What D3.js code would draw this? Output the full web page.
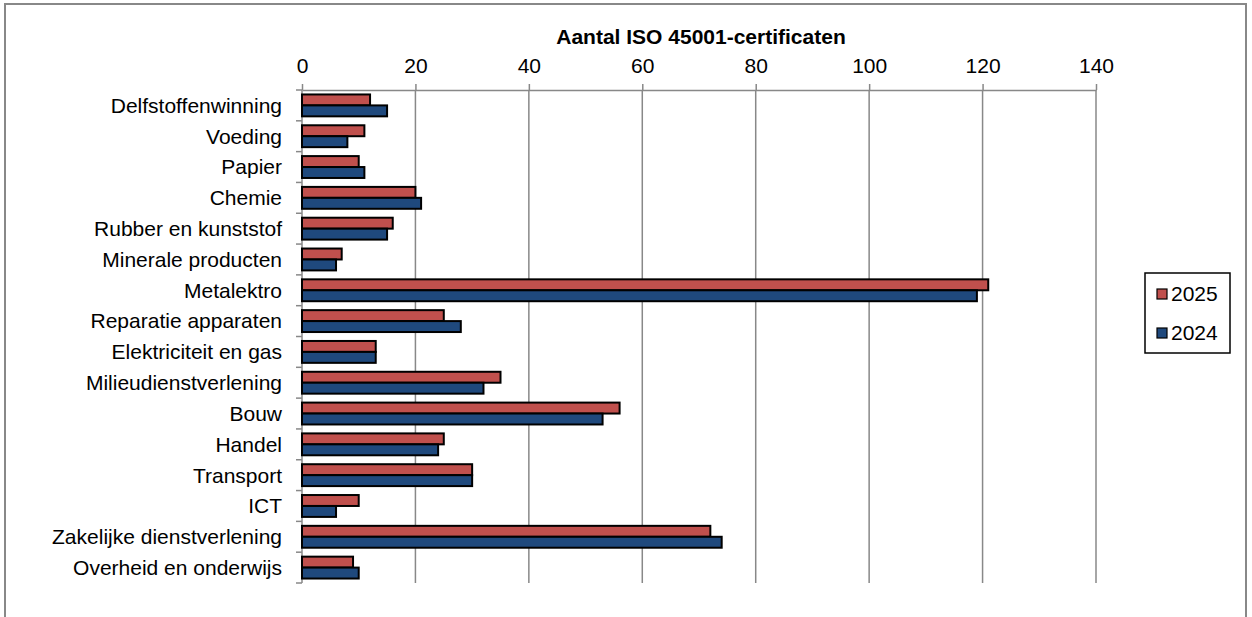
<!DOCTYPE html>
<html><head><meta charset="utf-8">
<script src="https://cdn.jsdelivr.net/npm/d3@7"></script>
<style>body{margin:0;background:#fff}svg{display:block}text{font-family:"Liberation Sans",Arial,sans-serif;fill:#000}</style>
</head><body>
<svg id="c" width="1252" height="617"></svg>
<script>
const categories = ["Delfstoffenwinning","Voeding","Papier","Chemie","Rubber en kunststof","Minerale producten","Metalektro","Reparatie apparaten","Elektriciteit en gas","Milieudienstverlening","Bouw","Handel","Transport","ICT","Zakelijke dienstverlening","Overheid en onderwijs"];
const values2025 = [12,11,10,20,16,7,121,25,13,35,56,25,30,10,72,9];
const values2024 = [15,8,11,21,15,6,119,28,13,32,53,24,30,6,74,10];
const seriesNames = ["2025","2024"];
const seriesColors = ["#C0504D","#1F497D"];
const xTicks = [0,20,40,60,80,100,120,140];
const title = "Aantal ISO 45001-certificaten";

const FS = "21px";
const svg = d3.select("#c");
// outer frame
svg.append("rect").attr("x",5).attr("y",4).attr("width",1241).attr("height",640)
  .attr("fill","none").attr("stroke","#888").attr("stroke-width",2);

const pLeft=302, pRight=1096, pTop=90, pBottom=583;
const x = d3.scaleLinear().domain([0,140]).range([pLeft,pRight]);
const y = d3.scaleBand().domain(categories).range([pTop,pBottom]).paddingInner(0.29).paddingOuter(0.145);
const sub = d3.scaleBand().domain(seriesNames).range([0,y.bandwidth()]);

// gridlines
svg.append("g").selectAll("line").data(xTicks.slice(1)).join("line")
  .attr("x1",d=>x(d)).attr("x2",d=>x(d)).attr("y1",pTop).attr("y2",pBottom)
  .attr("stroke","#888").attr("stroke-width",1.5);

// top axis
const gx = svg.append("g").attr("transform",`translate(0,${pTop})`)
  .call(d3.axisTop(x).tickValues(xTicks).tickSize(6).tickPadding(11).tickSizeOuter(0));
gx.select(".domain").attr("stroke","#888").attr("stroke-width",1.5);
gx.selectAll(".tick line").attr("stroke","#888").attr("stroke-width",1.5);
gx.selectAll(".tick text").attr("font-size",FS).attr("font-family","Liberation Sans, Arial, sans-serif").attr("fill","#000");

// left axis line + band ticks
svg.append("line").attr("x1",pLeft).attr("x2",pLeft).attr("y1",pTop).attr("y2",pBottom).attr("stroke","#888").attr("stroke-width",1.5);
const step = (pBottom-pTop)/categories.length;
svg.append("g").selectAll("line").data(d3.range(categories.length+1)).join("line")
  .attr("x1",pLeft-6).attr("x2",pLeft).attr("y1",i=>pTop+i*step).attr("y2",i=>pTop+i*step)
  .attr("stroke","#888").attr("stroke-width",1.5);

// category labels
svg.append("g").selectAll("text").data(categories).join("text")
  .attr("x",282).attr("y",d=>y(d)+y.bandwidth()/2).attr("dy","0.35em")
  .attr("text-anchor","end").attr("font-size",FS).text(d=>d);

// bars
const series = [values2025, values2024];
series.forEach((vals,si)=>{
  svg.append("g").selectAll("rect").data(categories).join("rect")
    .attr("x",x(0)).attr("y",(d)=>y(d)+sub(seriesNames[si]))
    .attr("width",(d,i)=>x(vals[i])-x(0)).attr("height",sub.bandwidth())
    .attr("fill",seriesColors[si]).attr("stroke","#000").attr("stroke-width",2);
});

// title
svg.append("text").attr("x",(pLeft+pRight)/2+2).attr("y",44).attr("text-anchor","middle")
  .attr("font-size",FS).attr("font-weight","bold").text(title);

// legend
const lg = svg.append("g");
lg.append("rect").attr("x",1145).attr("y",273).attr("width",85).attr("height",80)
  .attr("fill","#fff").attr("stroke","#000").attr("stroke-width",1.5);
seriesNames.forEach((n,i)=>{
  const cy = 294 + i*39;
  lg.append("rect").attr("x",1157).attr("y",cy-5).attr("width",10).attr("height",10)
    .attr("fill",seriesColors[i]).attr("stroke","#000").attr("stroke-width",1.2);
  lg.append("text").attr("x",1171).attr("y",cy).attr("dy","0.35em").attr("font-size",FS).text(n);
});
</script>
</body></html>
